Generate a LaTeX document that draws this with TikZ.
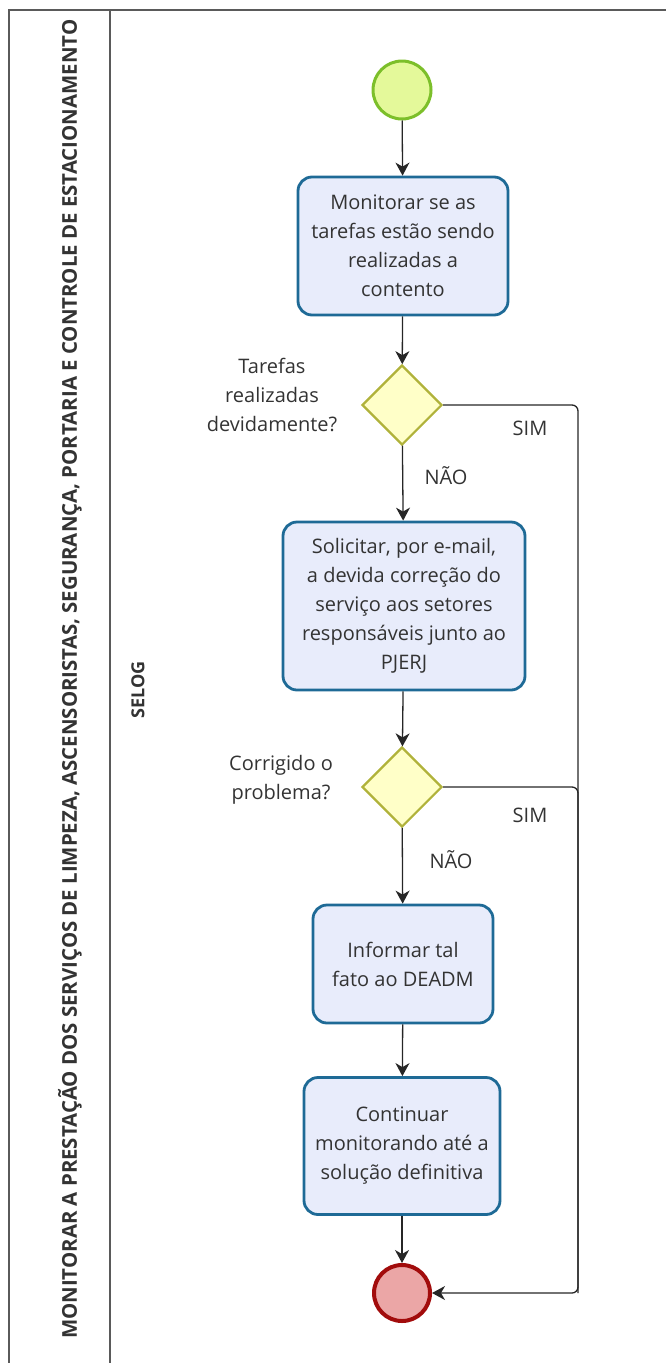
\documentclass[tikz,border=0pt]{standalone}
\usepackage{fontspec}
\setmainfont{Open Sans}
\usepackage{tikz}
\usetikzlibrary{shapes.geometric}
\usetikzlibrary{arrows.meta}

\definecolor{taskfill}{HTML}{E8ECFB}
\definecolor{taskline}{HTML}{1E6A96}
\definecolor{startfill}{HTML}{E4F99A}
\definecolor{startline}{HTML}{7CBF2A}
\definecolor{gatefill}{HTML}{FFFFC8}
\definecolor{gateline}{HTML}{B0B23A}
\definecolor{endfill}{HTML}{EBA6A6}
\definecolor{endline}{HTML}{A20C0C}
\definecolor{poolline}{HTML}{5A5A5A}
\definecolor{txt}{HTML}{333333}

\begin{document}
\begin{tikzpicture}[x=1pt,y=-1pt,
    every node/.style={text=txt,font=\fontsize{20}{29}\selectfont},
    task/.style={rectangle,rounded corners=14pt,draw=taskline,fill=taskfill,line width=2.8pt,align=center,inner sep=0pt},
    gate/.style={diamond,draw=gateline,fill=gatefill,line width=2.2pt,minimum width=80pt,minimum height=80pt,inner sep=0pt},
    flow/.style={-{Stealth[length=13pt,width=14pt,inset=4pt]},line width=1.3pt,black!85}]

    \useasboundingbox (0,0) rectangle (665,1363);

    % pool and lane
    \draw[poolline,line width=1.8pt] (9,1380) -- (9,10) -- (700,10);
    \draw[poolline,line width=1.8pt] (110,10) -- (110,1380);
    \node[rotate=90,anchor=east,font=\bfseries\fontsize{20.4}{22}\selectfont] (pool) at (70,16)
        {MONITORAR A PRESTAÇÃO DOS SERVIÇOS DE LIMPEZA, ASCENSORISTAS, SEGURANÇA, PORTARIA E CONTROLE DE ESTACIONAMENTO};
    \node[rotate=90,font=\bfseries\fontsize{18}{20}\selectfont] (lane) at (138,690) {SELOG};

    % events, tasks and gateways
    \node[circle,draw=startline,fill=startfill,line width=3pt,minimum size=58pt,inner sep=0pt] (s) at (402,90) {};
    \node[task,minimum width=210pt,minimum height=138pt] (1) at (403,246)
        {Monitorar se as\\tarefas estão sendo\\realizadas a\\contento};
    \node[gate] (g1) at (402,405) {};
    \node[task,minimum width=242pt,minimum height=168pt] (2) at (404,606)
        {Solicitar, por e-mail,\\a devida correção do\\serviço aos setores\\responsáveis junto ao\\PJERJ};
    \node[gate] (g2) at (402,787) {};
    \node[task,minimum width=180pt,minimum height=118pt] (3) at (403,964)
        {Informar tal\\fato ao DEADM};
    \node[task,minimum width=196pt,minimum height=137pt] (4) at (402,1146)
        {Continuar\\monitorando até a\\solução definitiva};
    \node[circle,draw=endline,fill=endfill,line width=4pt,minimum size=56pt,inner sep=0pt] (e) at (402,1293) {};
    \coordinate (r) at (578,1293);

    % gateway texts
    \node[align=center] (q1) at (272,395) {Tarefas\\realizadas\\devidamente?};
    \node[align=center] (q2) at (281,780) {Corrigido o\\problema?};
    \node (sim1) at (530,428) {SIM};
    \node (nao1) at (446,476) {NÃO};
    \node (sim2) at (530,815) {SIM};
    \node (nao2) at (451,860) {NÃO};

    % sequence flows
    \draw (s) edge[flow] (1);
    \draw (1) edge[flow] (g1);
    \draw (g1) edge[flow] (2);
    \draw (2) edge[flow] (g2);
    \draw (g2) edge[flow] (3);
    \draw (3) edge[flow] (4);
    \draw (4) edge[flow] (e);
    \draw[flow,rounded corners=6pt] (g1.east) -| (r) -- (e.east);
    \draw[line width=1.3pt,black!85,rounded corners=6pt] (g2.east) -| (r);
  \end{tikzpicture}
\end{document}
